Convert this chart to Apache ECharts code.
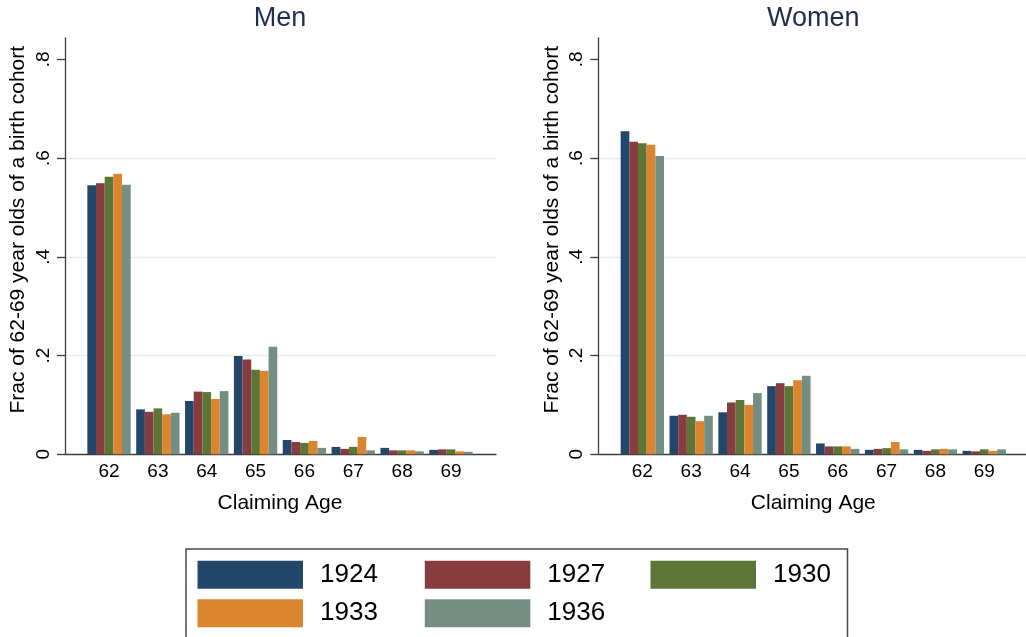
<!DOCTYPE html>
<html>
<head>
<meta charset="utf-8">
<style>
  html, body { margin: 0; padding: 0; background: #ffffff; }
  #chart { width: 1026px; height: 637px; }
</style>
<script src="https://cdn.jsdelivr.net/npm/echarts@6/dist/echarts.min.js"></script>
</head>
<body>
<div id="chart"></div>
<script>
// Claiming ages on the x axis and birth cohorts shown as bar series
const ages = ['62', '63', '64', '65', '66', '67', '68', '69'];
const cohorts = ['1924', '1927', '1930', '1933', '1936'];
const yTicks = [0, 0.2, 0.4, 0.6, 0.8];

// Fraction of each birth cohort claiming at each age — men
const men1924 = [0.545, 0.091, 0.108, 0.199, 0.029, 0.015, 0.013, 0.009];
const men1927 = [0.549, 0.086, 0.127, 0.192, 0.025, 0.011, 0.008, 0.010];
const men1930 = [0.562, 0.093, 0.126, 0.171, 0.023, 0.015, 0.008, 0.010];
const men1933 = [0.568, 0.081, 0.112, 0.169, 0.027, 0.035, 0.008, 0.006];
const men1936 = [0.546, 0.084, 0.128, 0.218, 0.013, 0.008, 0.006, 0.005];

// Fraction of each birth cohort claiming at each age — women
const women1924 = [0.654, 0.078, 0.085, 0.138, 0.022, 0.009, 0.009, 0.007];
const women1927 = [0.633, 0.080, 0.105, 0.144, 0.016, 0.011, 0.007, 0.006];
const women1930 = [0.630, 0.076, 0.110, 0.138, 0.016, 0.0125, 0.010, 0.010];
const women1933 = [0.627, 0.067, 0.100, 0.150, 0.016, 0.025, 0.011, 0.007];
const women1936 = [0.604, 0.078, 0.124, 0.159, 0.011, 0.010, 0.010, 0.010];

const menSeries = [men1924, men1927, men1930, men1933, men1936];
const womenSeries = [women1924, women1927, women1930, women1933, women1936];
const colors = ['#23466b', '#873d3f', '#5e7538', '#db852f', '#748e84'];

const FONT = '"Liberation Sans", Arial, Helvetica, sans-serif';
const AXIS_COLOR = '#3c3c3c';
const GRID_COLOR = '#e6eef0';

// Vertical layout: y = 0 sits at 454.3 px, 0.8 at 59.3 px
const zeroY = 454.3;
const pxPerUnit = 493.8;
const tickTop = zeroY - 0.8 * pxPerUnit;
const tickHeight = 0.8 * pxPerUnit;

// Each panel: frame grid (axis lines), tick grid (y ticks/grid lines), bar grid
const panels = [
  { title: 'Men', frameLeft: 65, barLeft: 84.6, data: menSeries },
  { title: 'Women', frameLeft: 598.3, barLeft: 617.9, data: womenSeries }
];
const frameWidth = 431;
const barWidthTotal = 390.8;

const grids = [], xAxes = [], yAxes = [], series = [], titles = [];

panels.forEach((p, pi) => {
  const base = pi * 3;
  grids.push({ left: p.frameLeft, top: 38, width: frameWidth, height: zeroY - 38 });
  grids.push({ left: p.frameLeft, top: tickTop, width: frameWidth, height: tickHeight });
  grids.push({ left: p.barLeft, top: tickTop, width: barWidthTotal, height: tickHeight });

  // frame axes
  xAxes.push({
    gridIndex: base, type: 'value', min: 0, max: 1,
    axisLine: { show: true, lineStyle: { color: AXIS_COLOR, width: 1.3 } },
    axisTick: { show: false }, axisLabel: { show: false }, splitLine: { show: false }
  });
  yAxes.push({
    gridIndex: base, type: 'value', min: 0, max: 1,
    axisLine: { show: true, lineStyle: { color: AXIS_COLOR, width: 1.3 } },
    axisTick: { show: false }, axisLabel: { show: false }, splitLine: { show: false }
  });

  // tick axes
  xAxes.push({ gridIndex: base + 1, type: 'value', min: 0, max: 1, show: false });
  yAxes.push({
    gridIndex: base + 1, type: 'value',
    min: yTicks[0], max: yTicks[yTicks.length - 1], interval: 0.2,
    axisLine: { show: false },
    axisTick: { show: true, length: 8, lineStyle: { color: AXIS_COLOR, width: 1.3 } },
    axisLabel: {
      rotate: 90, margin: 12, color: '#000', fontSize: 19, fontFamily: FONT,
      formatter: v => v === 0 ? '0' : ('.' + Math.round(v * 10))
    },
    splitLine: {
      show: true,
      lineStyle: { color: ['rgba(0,0,0,0)', GRID_COLOR, GRID_COLOR, GRID_COLOR, 'rgba(0,0,0,0)'], width: 1.3 }
    },
    name: 'Frac of 62-69 year olds of a birth cohort',
    nameLocation: 'middle', nameRotate: 90, nameGap: 36,
    nameTextStyle: { color: '#000', fontSize: 21, fontFamily: FONT, padding: [0, 0, 0, 54] }
  });

  // bar axes
  xAxes.push({
    gridIndex: base + 2, type: 'category', data: ages,
    axisLine: { show: false }, axisTick: { show: false },
    axisLabel: { margin: 8, color: '#000', fontSize: 19, fontFamily: FONT },
    name: 'Claiming Age', nameLocation: 'middle', nameGap: 38,
    nameTextStyle: { color: '#000', fontSize: 21, fontFamily: FONT }
  });
  yAxes.push({ gridIndex: base + 2, type: 'value', min: 0, max: 0.8, show: false });

  p.data.forEach((vals, ci) => {
    series.push({
      type: 'bar', name: cohorts[ci],
      xAxisIndex: base + 2, yAxisIndex: base + 2,
      data: vals, barWidth: 8.67, barGap: '0%',
      itemStyle: { color: colors[ci], borderColor: colors[ci], borderWidth: 0 },
      emphasis: { disabled: true }
    });
  });

  titles.push({
    text: p.title, left: p.frameLeft + frameWidth / 2 - 0.5, top: 5, textAlign: 'center', padding: 0,
    textStyle: { color: '#1f2d4f', fontSize: 27, fontWeight: 'normal', fontFamily: FONT }
  });
});

// Legend entries: swatch positions laid out in two rows of three columns
const legendCols = [197.5, 424.8, 650.5];
const legendRows = [560.7, 599.3];
const legends = cohorts.map((c, i) => ({
  data: [c],
  left: legendCols[i % 3], top: legendRows[Math.floor(i / 3)],
  padding: 0, itemWidth: 105.5, itemHeight: 28, icon: 'rect',
  selectedMode: false,
  textStyle: { color: '#000', fontSize: 26, fontFamily: FONT, padding: [0, 0, 0, 12] }
}));

const chart = echarts.init(document.getElementById('chart'), null, { renderer: 'canvas' });
chart.setOption({
  backgroundColor: '#ffffff',
  animation: false,
  title: titles,
  grid: grids,
  xAxis: xAxes,
  yAxis: yAxes,
  legend: legends,
  series: series,
  graphic: [{
    type: 'rect', silent: true,
    shape: { x: 186, y: 549, width: 661.5, height: 120 },
    style: { fill: 'none', stroke: '#4a4a4a', lineWidth: 1.5 }
  }]
});
</script>
</body>
</html>
